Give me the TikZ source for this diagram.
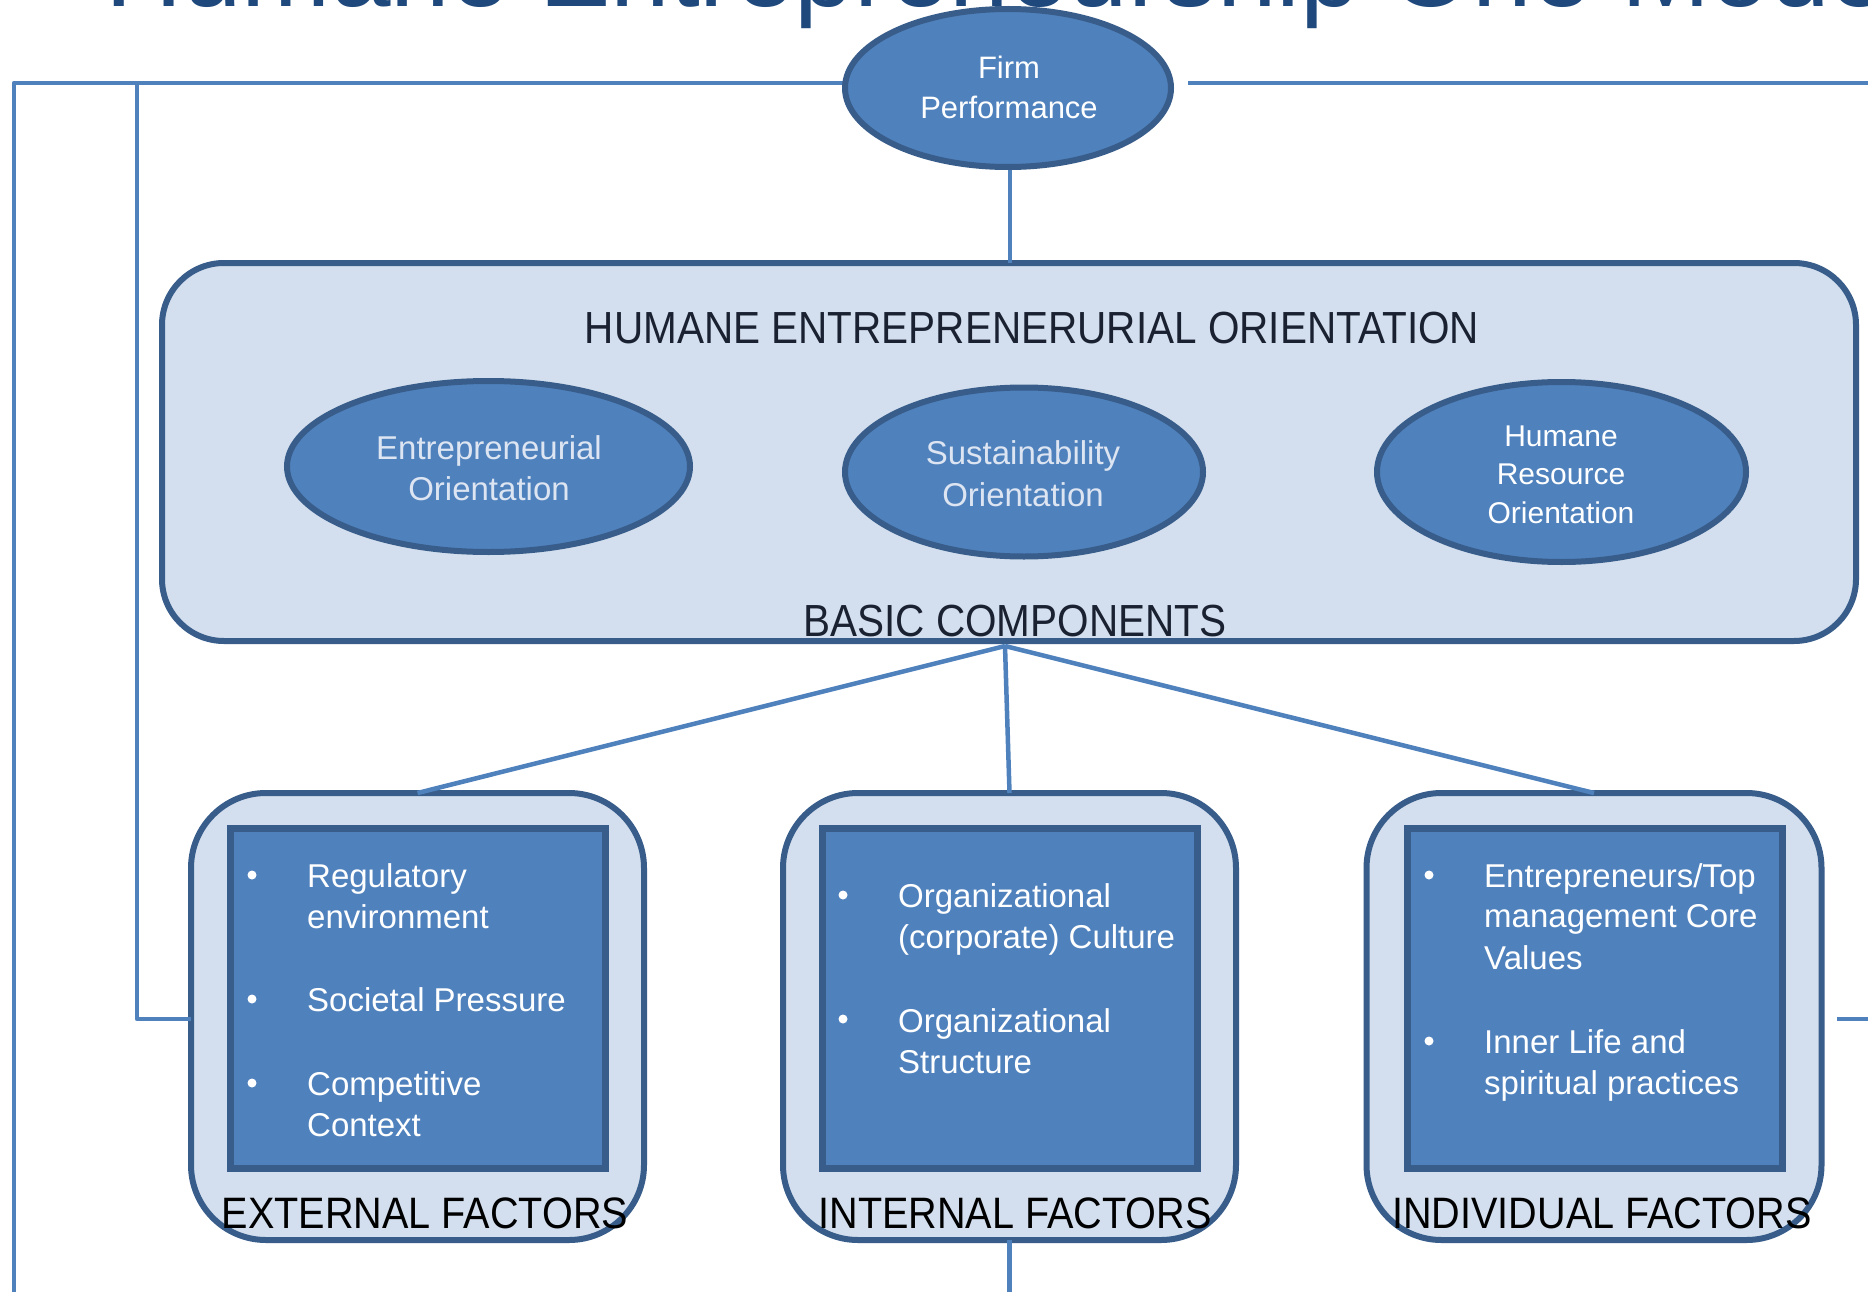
\documentclass[tikz,border=0pt]{standalone}
\usepackage{fontspec}
\setmainfont{Liberation Sans}
\newfontfamily\condfont[FakeStretch=0.9]{Liberation Sans}
\usetikzlibrary{shapes.geometric}
\definecolor{acc}{HTML}{4F81BD}
\definecolor{dk}{HTML}{385D8A}
\definecolor{lt}{HTML}{D3DFEE}
\definecolor{ttl}{HTML}{1F497D}
\definecolor{ltxt}{HTML}{DCE5F1}
\definecolor{hdr}{HTML}{1A2232}
\tikzset{
  conn/.style={draw=acc, line width=4.5, line join=round},
  bigbox/.style={draw=dk, fill=lt, line width=6, rounded corners=62, inner sep=0, outer sep=0},
  facbox/.style={draw=dk, fill=lt, line width=6, rounded corners=75, inner sep=0, outer sep=0, minimum width=453, minimum height=447},
  inbox/.style={draw=dk, fill=acc, line width=7, inner sep=0, outer sep=0, minimum width=375, minimum height=340},
  oval/.style={ellipse, draw=dk, fill=acc, line width=6, inner sep=0, outer sep=0},
  lab/.style={anchor=base, inner sep=0, font=\condfont\fontsize{44}{50}\selectfont},
  otxt/.style={anchor=base, inner sep=0, font=\fontsize{33}{41}\selectfont},
  ln/.style={anchor=base west, inner sep=0, text=white, font=\fontsize{33}{41}\selectfont},
  bul/.style={circle, fill=white, inner sep=0, minimum size=9},
}
\begin{document}
\begin{tikzpicture}[x=1pt,y=-1pt]
\clip (0,0) rectangle (1868,1292);
\fill[white] (0,0) rectangle (1868,1292);

% title (cut off at the top, as in the reference)
\node[anchor=base west, inner sep=0, text=ttl, font=\fontsize{107}{120}\selectfont] (title) at (105,7) {Humane Entrepreneurship One Model};

% free-end coordinates
\coordinate (tl) at (14,83);
\coordinate (bl) at (14,1300);
\coordinate (t2) at (137,83);
\coordinate (tr0) at (1188,83);
\coordinate (tr1) at (1875,83);
\coordinate (rr0) at (1837,1019);
\coordinate (rr1) at (1875,1019);
\coordinate (hub) at (1005,646);

% boxes
\node[bigbox, minimum width=1694, minimum height=378] (heo) at (1009,452) {};
\node[facbox] (ext) at (417.5,1016.5) {};
\node[facbox] (int) at (1009.5,1016.5) {};
\node[facbox, minimum width=455] (ind) at (1594,1016.5) {};
\node[inbox] (extin) at (418,998.5) {};
\node[inbox] (intin) at (1009.5,998.5) {};
\node[inbox] (indin) at (1594.5,998.5) {};

% ellipses
\node[oval, minimum width=403, minimum height=171] (eo) at (488.5,466.5) {};
\node[oval, minimum width=358, minimum height=169] (so) at (1024,472) {};
\node[oval, minimum width=369, minimum height=180] (hro) at (1561.5,472) {};

% connectors
\draw[conn] (bl) -- (tl) -- (1010,83);
\draw[conn] (t2) -- (t2 |- 0,1019) -- (ext.west |- 0,1019);
\draw[conn] (tr0) -- (tr1);
\draw[conn] (rr0) -- (rr1);
\draw[conn] (1010,150) -- (1010,263);
\draw[conn] (hub) -- (ext.north);
\draw[conn] (hub) -- (int.north);
\draw[conn] (hub) -- (ind.north);
\draw[conn] (int.south) -- (int.south |- 0,1300);

% firm performance ellipse on top of the line ends
\node[oval, minimum width=326, minimum height=158] (fp) at (1008,88) {};

% texts in ellipses
\node[otxt, text=white, font=\fontsize{31}{38}\selectfont] (fpa) at (1009,79) {Firm};
\node[otxt, text=white, font=\fontsize{31}{38}\selectfont] (fpb) at (1009,119) {Performance};
\node[otxt, text=ltxt] (eoa) at (489,459) {Entrepreneurial};
\node[otxt, text=ltxt] (eob) at (489,500) {Orientation};
\node[otxt, text=ltxt] (soa) at (1023,464) {Sustainability};
\node[otxt, text=ltxt] (sob) at (1023,506) {Orientation};
\node[otxt, text=white, font=\fontsize{30}{38}\selectfont] (hroa) at (1561,446) {Humane};
\node[otxt, text=white, font=\fontsize{30}{38}\selectfont] (hrob) at (1561,484) {Resource};
\node[otxt, text=white, font=\fontsize{30}{38}\selectfont] (hroc) at (1561,523) {Orientation};

% labels
\node[lab, text=hdr, font=\condfont\fontsize{45}{50}\selectfont] (hdr) at (1032,343) {HUMANE ENTREPRENERURIAL ORIENTATION};
\node[lab, text=hdr, font=\condfont\fontsize{45}{50}\selectfont] (basic) at (1015,636) {BASIC COMPONENTS};
\node[lab, text=black] (extl) at (425,1228) {EXTERNAL FACTORS};
\node[lab, text=black] (intl) at (1015,1228) {INTERNAL FACTORS};
\node[lab, text=black] (indl) at (1602,1228) {INDIVIDUAL FACTORS};

% external bullets
\node[bul] (xb1) at (252,875) {};
\node[bul] (xb2) at (252,999) {};
\node[bul] (xb3) at (252,1083) {};
\node[ln] (x1) at (307,887) {Regulatory};
\node[ln] (x2) at (307,928) {environment};
\node[ln] (x3) at (307,1011) {Societal Pressure};
\node[ln] (x4) at (307,1095) {Competitive};
\node[ln] (x5) at (307,1136) {Context};

% internal bullets
\node[bul] (ib1) at (843,895) {};
\node[bul] (ib2) at (843,1019) {};
\node[ln] (i1) at (898,907) {Organizational};
\node[ln] (i2) at (898,948) {(corporate) Culture};
\node[ln] (i3) at (898,1032) {Organizational};
\node[ln] (i4) at (898,1073) {Structure};

% individual bullets
\node[bul] (db1) at (1429,875) {};
\node[bul] (db2) at (1429,1041) {};
\node[ln] (d1) at (1484,887) {Entrepreneurs/Top};
\node[ln] (d2) at (1484,927) {management Core};
\node[ln] (d3) at (1484,969) {Values};
\node[ln] (d4) at (1484,1053) {Inner Life and};
\node[ln] (d5) at (1484,1094) {spiritual practices};
\end{tikzpicture}
\end{document}
